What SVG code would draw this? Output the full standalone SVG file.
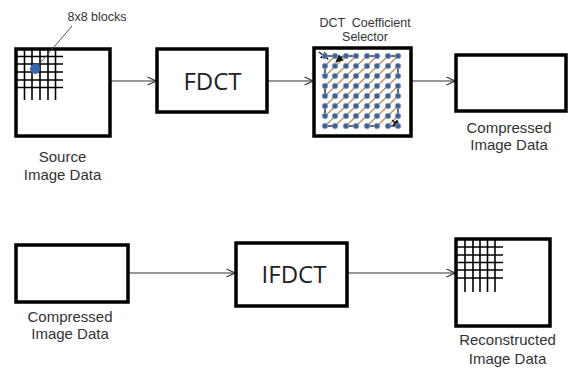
<svg xmlns="http://www.w3.org/2000/svg" width="568" height="373" viewBox="0 0 568 373">
<defs>
<marker id="open" viewBox="0 0 10 10" refX="9.5" refY="5" markerWidth="10" markerHeight="10" markerUnits="userSpaceOnUse" orient="auto">
<polyline points="1,1 9.5,5 1,9" fill="none" stroke="#333" stroke-width="1.1"/>
</marker>
<marker id="solid" viewBox="0 0 10 10" refX="9" refY="5" markerWidth="8" markerHeight="8" markerUnits="userSpaceOnUse" orient="auto">
<path d="M0,0 L10,5 L0,10 Z" fill="#111"/>
</marker>
<circle id="d" r="2.8" fill="#3f5f95" stroke="#8aa6d0" stroke-width="0.8"/>
</defs>
<style>
.box{fill:#fff;stroke:#000;stroke-width:3.5}
.grid{stroke:#000;stroke-width:1.6}
.lbl{font-family:"Liberation Sans",Arial,sans-serif;font-size:15px;fill:#333;text-anchor:middle}
.sm{font-family:"Liberation Sans",Arial,sans-serif;font-size:12.5px;fill:#333;text-anchor:middle}
.big{font-family:"Open Sans","Liberation Sans",sans-serif;font-size:24px;fill:#222;text-anchor:middle}
.conn{stroke:#333;stroke-width:1.1;fill:none;marker-end:url(#open)}
.edge{stroke:#111;stroke-width:1.3;fill:none}
.diag{stroke:#b8925a;stroke-width:1.3;fill:none}
</style>
<rect width="568" height="373" fill="#fff"/>

<g id="connectors">
<line class="conn" x1="110" y1="81" x2="156" y2="81"/>
<line class="conn" x1="267" y1="81" x2="313" y2="81"/>
<line class="conn" x1="411" y1="81" x2="455" y2="81"/>
<line class="conn" x1="128" y1="273" x2="235" y2="273"/>
<line class="conn" x1="347" y1="273" x2="455" y2="273"/>
</g>

<g id="source">
<rect class="box" x="16" y="49" width="94" height="87"/>
<g class="grid">
<line x1="24.5" y1="49" x2="24.5" y2="100"/>
<line x1="32" y1="49" x2="32" y2="100"/>
<line x1="40" y1="49" x2="40" y2="100"/>
<line x1="48" y1="49" x2="48" y2="100"/>
<line x1="55.5" y1="49" x2="55.5" y2="100"/>
<line x1="16" y1="56.5" x2="63" y2="56.5"/>
<line x1="16" y1="64" x2="63" y2="64"/>
<line x1="16" y1="72" x2="63" y2="72"/>
<line x1="16" y1="80" x2="63" y2="80"/>
<line x1="16" y1="87.5" x2="63" y2="87.5"/>
</g>
<line x1="35" y1="69" x2="72" y2="26" stroke="#555" stroke-width="1"/>
<circle cx="35" cy="69" r="5" fill="#3a64b4"/>
<text class="sm" x="97" y="21">8x8 blocks</text>
<text class="lbl" x="62.5" y="162">Source</text>
<text class="lbl" x="62.5" y="180">Image Data</text>
</g>

<g id="fdct">
<rect class="box" x="157" y="49" width="110" height="63"/>
<text class="big" x="212.5" y="90">FDCT</text>
</g>

<g id="selector">
<rect class="box" x="314" y="48" width="97" height="88"/>
<g class="diag">
<line x1="335" y1="56" x2="325" y2="66"/>
<line x1="325" y1="76" x2="346" y2="56"/>
<line x1="356" y1="56" x2="325" y2="86"/>
<line x1="325" y1="96" x2="367" y2="56"/>
<line x1="377" y1="56" x2="325" y2="106"/>
<line x1="325" y1="116" x2="388" y2="56"/>
<line x1="398" y1="56" x2="325" y2="126"/>
<line x1="335" y1="126" x2="398" y2="66"/>
<line x1="398" y1="76" x2="346" y2="126"/>
<line x1="356" y1="126" x2="398" y2="86"/>
<line x1="398" y1="96" x2="367" y2="126"/>
<line x1="377" y1="126" x2="398" y2="106"/>
<line x1="398" y1="116" x2="388" y2="126"/>
</g>
<g class="edge">
<line x1="325" y1="56" x2="335" y2="56"/>
<line x1="346" y1="56" x2="356" y2="56"/>
<line x1="367" y1="56" x2="377" y2="56"/>
<line x1="388" y1="56" x2="398" y2="56"/>
<line x1="325" y1="66" x2="325" y2="76"/>
<line x1="325" y1="86" x2="325" y2="96"/>
<line x1="325" y1="106" x2="325" y2="116"/>
<line x1="325" y1="126" x2="335" y2="126"/>
<line x1="346" y1="126" x2="356" y2="126"/>
<line x1="367" y1="126" x2="377" y2="126"/>
<line x1="388" y1="126" x2="398" y2="126"/>
<line x1="398" y1="66" x2="398" y2="76"/>
<line x1="398" y1="86" x2="398" y2="96"/>
<line x1="398" y1="106" x2="398" y2="116"/>
</g>
<line x1="319" y1="52" x2="328" y2="59" stroke="#111" stroke-width="1.3" marker-end="url(#solid)"/>
<line x1="343" y1="56" x2="336" y2="62" stroke="#111" stroke-width="1.3" marker-end="url(#solid)"/>
<line x1="392" y1="120" x2="400" y2="127" stroke="#111" stroke-width="1.3" marker-end="url(#solid)"/>
<g>
<use href="#d" x="325" y="56"/><use href="#d" x="335" y="56"/><use href="#d" x="346" y="56"/><use href="#d" x="356" y="56"/><use href="#d" x="367" y="56"/><use href="#d" x="377" y="56"/><use href="#d" x="388" y="56"/><use href="#d" x="398" y="56"/>
<use href="#d" x="325" y="66"/><use href="#d" x="335" y="66"/><use href="#d" x="346" y="66"/><use href="#d" x="356" y="66"/><use href="#d" x="367" y="66"/><use href="#d" x="377" y="66"/><use href="#d" x="388" y="66"/><use href="#d" x="398" y="66"/>
<use href="#d" x="325" y="76"/><use href="#d" x="335" y="76"/><use href="#d" x="346" y="76"/><use href="#d" x="356" y="76"/><use href="#d" x="367" y="76"/><use href="#d" x="377" y="76"/><use href="#d" x="388" y="76"/><use href="#d" x="398" y="76"/>
<use href="#d" x="325" y="86"/><use href="#d" x="335" y="86"/><use href="#d" x="346" y="86"/><use href="#d" x="356" y="86"/><use href="#d" x="367" y="86"/><use href="#d" x="377" y="86"/><use href="#d" x="388" y="86"/><use href="#d" x="398" y="86"/>
<use href="#d" x="325" y="96"/><use href="#d" x="335" y="96"/><use href="#d" x="346" y="96"/><use href="#d" x="356" y="96"/><use href="#d" x="367" y="96"/><use href="#d" x="377" y="96"/><use href="#d" x="388" y="96"/><use href="#d" x="398" y="96"/>
<use href="#d" x="325" y="106"/><use href="#d" x="335" y="106"/><use href="#d" x="346" y="106"/><use href="#d" x="356" y="106"/><use href="#d" x="367" y="106"/><use href="#d" x="377" y="106"/><use href="#d" x="388" y="106"/><use href="#d" x="398" y="106"/>
<use href="#d" x="325" y="116"/><use href="#d" x="335" y="116"/><use href="#d" x="346" y="116"/><use href="#d" x="356" y="116"/><use href="#d" x="367" y="116"/><use href="#d" x="377" y="116"/><use href="#d" x="388" y="116"/><use href="#d" x="398" y="116"/>
<use href="#d" x="325" y="126"/><use href="#d" x="335" y="126"/><use href="#d" x="346" y="126"/><use href="#d" x="356" y="126"/><use href="#d" x="367" y="126"/><use href="#d" x="377" y="126"/><use href="#d" x="388" y="126"/><use href="#d" x="398" y="126"/>
</g>
<text class="sm" x="365" y="26.5" xml:space="preserve">DCT  Coefficient</text>
<text class="sm" x="365" y="41">Selector</text>
</g>

<g id="compressed-top">
<rect class="box" x="456" y="55" width="110" height="56"/>
<text class="lbl" x="509" y="132.5">Compressed</text>
<text class="lbl" x="509" y="150">Image Data</text>
</g>

<g id="compressed-bottom">
<rect class="box" x="16" y="245" width="112" height="57"/>
<text class="lbl" x="70" y="321.5">Compressed</text>
<text class="lbl" x="70" y="339">Image Data</text>
</g>

<g id="ifdct">
<rect class="box" x="236" y="243" width="111" height="63"/>
<text class="big" x="294" y="283">IFDCT</text>
</g>

<g id="reconstructed">
<rect class="box" x="456" y="239" width="94" height="87"/>
<g class="grid">
<line x1="465" y1="239" x2="465" y2="292"/>
<line x1="473" y1="239" x2="473" y2="292"/>
<line x1="480" y1="239" x2="480" y2="292"/>
<line x1="487.5" y1="239" x2="487.5" y2="292"/>
<line x1="495" y1="239" x2="495" y2="292"/>
<line x1="456" y1="247" x2="503" y2="247"/>
<line x1="456" y1="255" x2="503" y2="255"/>
<line x1="456" y1="262.5" x2="503" y2="262.5"/>
<line x1="456" y1="270" x2="503" y2="270"/>
<line x1="456" y1="278" x2="503" y2="278"/>
</g>
<text class="lbl" x="507.5" y="345">Reconstructed</text>
<text class="lbl" x="507.5" y="363.5">Image Data</text>
</g>
</svg>
